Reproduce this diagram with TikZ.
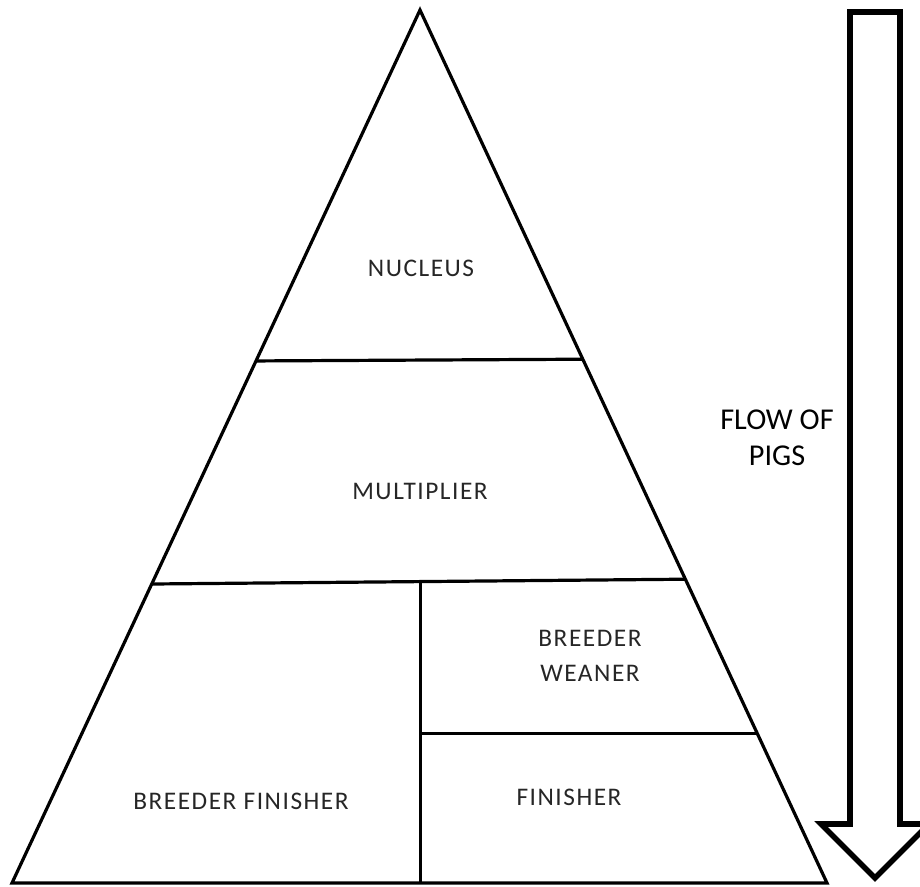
\documentclass[tikz,border=0pt]{standalone}
\usepackage{fontspec}
\setmainfont{Carlito}
\newfontfamily\tierfont[LetterSpace=6]{Carlito}
\usetikzlibrary{calc}

\begin{document}
\begin{tikzpicture}[x=0.75pt,y=-0.75pt,
	tier/.style={font=\tierfont\fontsize{19}{26}\selectfont,align=center,text=black!85},
	flow/.style={font=\fontsize{22.7}{27}\selectfont,align=center}]
	\useasboundingbox (0,0) rectangle (920,886);
	%pyramid
	\coordinate (apex) at (420,10);
	\coordinate (bl) at (12,883);
	\coordinate (br) at (827,883);
	\draw[line width=2.4pt] (apex) -- (bl) -- (br) -- cycle;
	\coordinate (n1) at ($(apex)!0.402!(bl)$);
	\coordinate (n2) at ($(apex)!0.400!(br)$);
	\coordinate (m1) at ($(apex)!0.6575!(bl)$);
	\coordinate (m2) at ($(apex)!0.652!(br)$);
	\coordinate (w2) at ($(apex)!0.829!(br)$);
	\coordinate (v1) at ($(m1)!0.503!(m2)$);
	\coordinate (v2) at (v1 |- bl);
	\coordinate (w1) at (v1 |- w2);
	\draw[line width=2.4pt] (n1) -- (n2);
	\draw[line width=2.4pt] (m1) -- (m2);
	\draw[line width=2.4pt] (v1) -- (v2);
	\draw[line width=2.4pt] (w1) -- (w2);
	\node[tier] (nucleus) at (421,268) {NUCLEUS};
	\node[tier] (multiplier) at (420,491) {MULTIPLIER};
	\node[tier] (weaner) at (590,656) {BREEDER\\WEANER};
	\node[tier] (finisher) at (569,797) {FINISHER};
	\node[tier] (bfinisher) at (241,801) {BREEDER FINISHER};
	%arrow
	\draw[line width=4.2pt,line join=miter] (850,12) -- (900,12) -- (900,824) -- (929,824)
	-- (875,878) -- (821,824) -- (850,824) -- cycle;
	\node[flow] (flow) at (777,438) {FLOW OF\\PIGS};
\end{tikzpicture}
\end{document}
